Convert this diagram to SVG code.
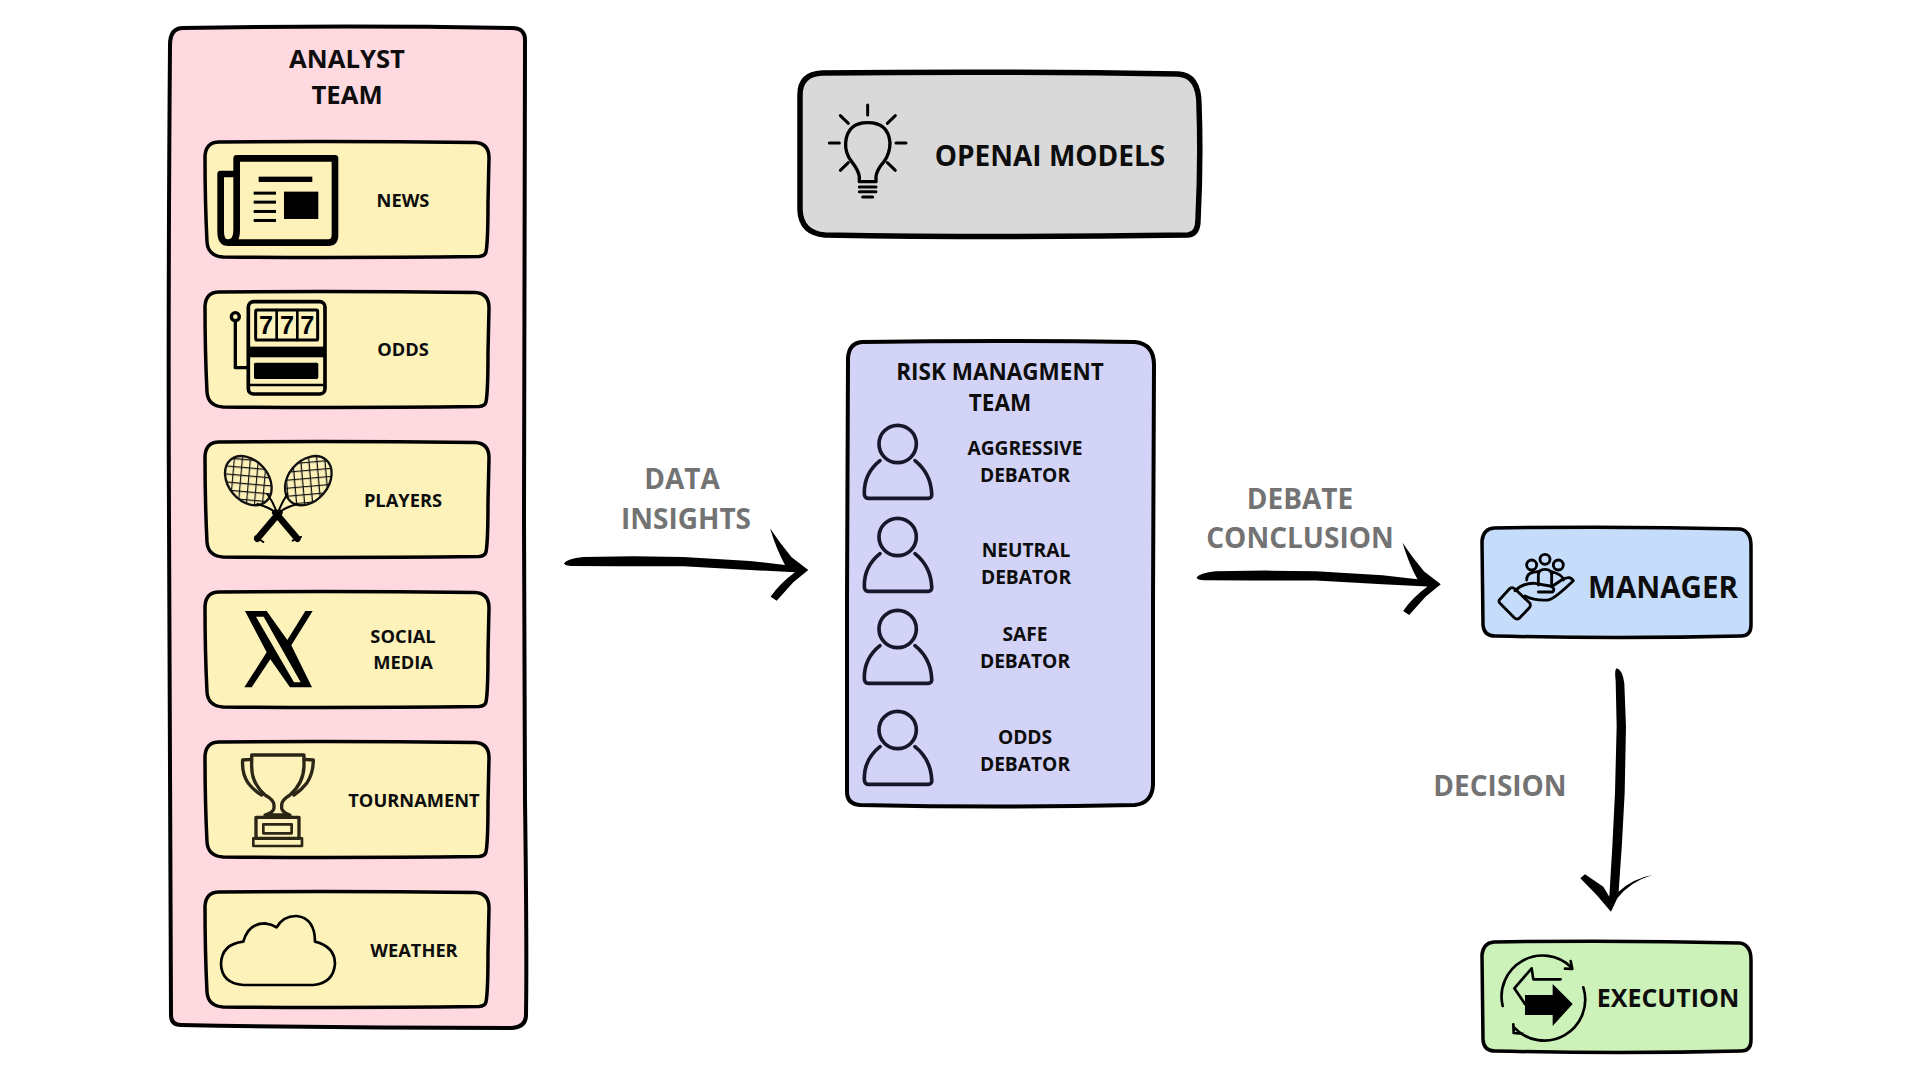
<svg xmlns="http://www.w3.org/2000/svg" width="1920" height="1080" viewBox="0 0 1920 1080">
<style>
text{font-family:"Open Sans","Liberation Sans",sans-serif;font-weight:700;fill:#0d0d0d;text-anchor:middle}
.t26{font-size:25.7px}.t18{font-size:18.3px}.t19{font-size:19.2px}.t22{font-size:22.5px}
.lab{font-size:28px;fill:#737373}
.box{stroke:#000;stroke-linejoin:round}
.card{fill:#fcf2ba;stroke:#000;stroke-width:3.5;stroke-linejoin:round}
.ln{fill:none;stroke:#000;stroke-linecap:round;stroke-linejoin:round}
.solid{fill:#000;stroke:none}
</style>
<defs>
<path id="cardShape" class="card" d="M14 0Q140-1 270 .5Q284 1 284 16L283 60Q283 100 281 110Q280 114 274 114.5Q140 116 18 115Q3 114 2 100Q0 60 0 14Q1 0 14 0Z"/>
<path id="stroke" d="M42 340Q50 326 100 321L250 319L400 321L600 333L705 345Q680 300 660 235Q690 280 725 322L775 360L730 397L680 452L662 440Q690 400 735 367L600 360L400 349L200 349L70 348Q45 349 42 340Z"/>
<g id="person" class="ln" stroke-width="11" style="stroke:#17172b">
<circle cx="173" cy="342" r="56"/>
<path d="M120 392Q72 430 73 490Q73 505 85 505L265 505Q277 505 275 490Q272 430 225 392"/>
</g>
<pattern id="hatch" width="24" height="24" patternUnits="userSpaceOnUse" patternTransform="rotate(45)">
<rect width="24" height="24" fill="#fcf2ba"/>
<path d="M0 0H24M0 0V24" stroke="#111" stroke-width="7"/>
</pattern>
</defs>

<g id="connectors">
<use href="#stroke" transform="translate(550 450) scale(.3333)"/>
<use href="#stroke" transform="translate(1182.5 464.3) scale(.3333)"/>
<path transform="translate(1420 660) scale(.3333)" d="M590 25Q583 30 587 60L590 200L585 400L577 560L568 710L550 680L495 643L481 655L530 705L573 755L592 715Q630 665 697 645Q640 655 596 695L606 550L614 400L618 200L613 70Q608 30 590 25Z"/>
<text class="lab" x="682" y="489">DATA</text>
<text class="lab" x="686" y="529">INSIGHTS</text>
<text class="lab" x="1300" y="509">DEBATE</text>
<text class="lab" x="1300" y="548">CONCLUSION</text>
<text class="lab" x="1500" y="796">DECISION</text>
</g>

<g id="analyst-team">
<path class="box" fill="#ffd9e0" stroke-width="4" d="M183 28Q345 25 512 28Q526 28 525 42Q524 300 524 520L525 800Q527 950 526 1015Q526 1027 512 1028Q345 1028 181 1025Q171 1025 171 1015L169 520Q168 300 170 45Q170 28 183 28Z"/>
<text class="t26" x="347" y="68">ANALYST</text>
<text class="t26" x="347" y="104">TEAM</text>
</g>

<g id="news">
<use href="#cardShape" x="205" y="142"/>
<g transform="translate(150 0) scale(.3333)">
<path class="ln" stroke-width="20" stroke-linecap="butt" d="M260 690V475H555V705Q555 728 535 728H235Q212 728 212 695V522H260M260 690Q260 728 235 728"/>
<rect class="solid" x="326" y="530" width="161" height="16"/>
<rect class="solid" x="311" y="575" width="67" height="9"/>
<rect class="solid" x="311" y="602" width="67" height="9"/>
<rect class="solid" x="311" y="630" width="67" height="9"/>
<rect class="solid" x="311" y="657" width="67" height="9"/>
<rect class="solid" x="402" y="575" width="103" height="82"/>
</g>
<text class="t18" x="403" y="207">NEWS</text>
</g>

<g id="odds">
<use href="#cardShape" x="205" y="292"/>
<g transform="translate(150 0) scale(.3333)">
<rect class="ln" x="295" y="905" width="230" height="277" rx="16" stroke-width="11"/>
<rect class="ln" x="317" y="930" width="186" height="90" rx="4" stroke-width="9"/>
<path class="ln" stroke-width="8" d="M380 930V1020M442 930V1020"/>
<text x="348" y="1002" style="font-family:'Liberation Sans',sans-serif;font-size:76px;fill:#000">7</text>
<text x="411" y="1002" style="font-family:'Liberation Sans',sans-serif;font-size:76px;fill:#000">7</text>
<text x="472" y="1002" style="font-family:'Liberation Sans',sans-serif;font-size:76px;fill:#000">7</text>
<rect class="solid" x="295" y="1040" width="230" height="32"/>
<rect class="solid" x="312" y="1088" width="193" height="49" rx="5"/>
<path class="ln" stroke-width="8" d="M295 1155H525"/>
<circle class="ln" cx="256" cy="950" r="12" stroke-width="10"/>
<path class="ln" stroke-width="10" d="M256 962V1103H295"/>
</g>
<text class="t18" x="403" y="356">ODDS</text>
</g>

<g id="players">
<use href="#cardShape" x="205" y="442"/>
<g transform="translate(150 420) scale(.3333)">
<ellipse cx="295" cy="182" rx="60" ry="82" transform="rotate(-40 295 182)" fill="url(#hatch)" stroke="#111" stroke-width="7"/>
<ellipse cx="475" cy="182" rx="60" ry="82" transform="rotate(40 475 182)" fill="url(#hatch)" stroke="#111" stroke-width="7"/>
<path class="ln" stroke-width="6" d="M352 222Q372 250 382 282M322 252Q360 262 382 282M412 222Q394 250 382 282M442 252Q404 262 382 282"/>
<path class="ln" stroke-width="20" stroke-linecap="butt" d="M376 278L442 356M388 278L322 356"/>
<path class="ln" stroke-width="6" stroke-linecap="butt" d="M428 362L453 351M316 350L340 366"/>
</g>
<text class="t18" x="403" y="507">PLAYERS</text>
</g>

<g id="social-media">
<use href="#cardShape" x="205" y="592"/>
<g transform="translate(150 420) scale(.3333)">
<path class="solid" fill-rule="evenodd" d="M285 573H350L412 660L466 573H488L424 676L486 802H420L361 718L305 802H283L350 697ZM318 590L432 787H452L341 590Z"/>
</g>
<text class="t18" x="403" y="643">SOCIAL</text>
<text class="t18" x="403" y="669">MEDIA</text>
</g>

<g id="tournament">
<use href="#cardShape" x="205" y="742"/>
<g transform="translate(150 740) scale(.3333)" class="ln" style="stroke:#2b2616" stroke-width="10">
<path d="M305 45H462V80Q460 130 420 165Q395 180 395 195V205Q398 218 420 225H345Q370 218 372 205V195Q372 180 345 165Q305 130 305 80Z"/>
<path d="M305 58L278 60Q275 100 295 130Q310 150 335 165M462 58L490 60Q490 100 470 130Q455 150 432 165"/>
<rect x="318" y="232" width="129" height="63"/>
<rect x="340" y="253" width="85" height="27" stroke-width="8"/>
<rect x="310" y="295" width="146" height="23" stroke-width="8"/>
</g>
<text class="t18" x="414" y="807">TOURNAMENT</text>
</g>

<g id="weather">
<use href="#cardShape" x="205" y="892"/>
<g transform="translate(150 740) scale(.3333)">
<path class="ln" stroke-width="8" d="M280 735Q215 730 213 672Q215 612 280 605Q295 550 345 550Q365 552 380 562Q400 527 440 528Q495 535 495 605Q555 620 555 672Q550 730 490 735Z"/>
</g>
<text class="t18" x="414" y="957">WEATHER</text>
</g>

<g id="openai-models">
<path class="box" fill="#d9d9d9" stroke-width="5.5" d="M822 73Q1000 71 1178 74Q1199 75 1199 105Q1201 160 1198 220Q1198 234 1188 235Q1000 238 825 235Q801 233 800 210L800 95Q800 74 822 73Z"/>
<g transform="translate(790 50) scale(.3333)">
<path class="ln" stroke-width="10" d="M208 395V380Q205 360 185 335Q165 310 167 278Q172 218 233 218Q295 218 300 278Q300 310 282 335Q260 360 258 380V395Z"/>
<path class="ln" stroke-width="9" stroke-linecap="butt" d="M208 411H258M208 425H258M218 441H248"/>
<path class="ln" stroke-width="9" d="M233 165V195M151 197L175 220M316 197L292 220M118 279H148M318 279H348M151 361L175 338M316 361L292 338"/>
</g>
<text x="1050" y="166" font-size="28">OPENAI MODELS</text>
</g>

<g id="risk-management-team">
<path class="box" fill="#d3d3f7" stroke-width="4" d="M862 342Q1000 340 1135 342Q1154 344 1154 365L1153 600L1153 785Q1152 803 1135 805Q1000 808 860 805Q847 804 847 792L847 600L848 358Q849 343 862 342Z"/>
<text class="t22" x="1000" y="380">RISK MANAGMENT</text>
<text class="t22" x="1000" y="411">TEAM</text>
</g>

<g id="aggressive-debator">
<use href="#person" transform="translate(840 330) scale(.3333)"/>
<text class="t19" x="1025" y="455">AGGRESSIVE</text>
<text class="t19" x="1025" y="482">DEBATOR</text>
</g>
<g id="neutral-debator">
<use href="#person" transform="translate(840 423) scale(.3333)"/>
<text class="t19" x="1026" y="557">NEUTRAL</text>
<text class="t19" x="1026" y="584">DEBATOR</text>
</g>
<g id="safe-debator">
<use href="#person" transform="translate(840 515) scale(.3333)"/>
<text class="t19" x="1025" y="641">SAFE</text>
<text class="t19" x="1025" y="668">DEBATOR</text>
</g>
<g id="odds-debator">
<use href="#person" transform="translate(840 616) scale(.3333)"/>
<text class="t19" x="1025" y="744">ODDS</text>
<text class="t19" x="1025" y="771">DEBATOR</text>
</g>

<g id="manager">
<path class="box" fill="#c5ddfb" stroke-width="3.5" d="M1494 533Q1620 531 1740 534Q1751 536 1751 551L1751 630Q1751 641 1741 641Q1620 644 1495 641Q1484 641 1483 630L1482 546Q1483 534 1494 533Z" transform="translate(0 -5)"/>
<g transform="translate(1480 520) scale(.3333)" class="ln" stroke-width="8.5">
<circle cx="155" cy="135" r="15"/><circle cx="195" cy="118" r="15"/><circle cx="235" cy="135" r="15"/>
<path d="M175 195V165Q175 148 195 148Q215 148 215 165V195M140 180Q140 155 175 155M250 180Q250 165 215 155"/>
<path d="M58 240L90 205Q97 200 105 207L150 250Q153 258 148 263L118 295Q110 300 103 293L60 250Q55 245 58 240Z"/>
<path d="M105 212Q130 188 165 190L210 198Q228 205 218 216H175M135 228Q165 243 205 240Q225 235 280 182Q270 165 245 180L218 198"/>
</g>
<text x="1663" y="598" font-size="29.5">MANAGER</text>
</g>

<g id="execution">
<path class="box" fill="#ccf1b9" stroke-width="3.5" d="M1494 942Q1620 940 1740 943Q1751 945 1751 960L1751 1040Q1751 1051 1741 1051Q1620 1054 1495 1051Q1484 1051 1483 1040L1482 955Q1483 943 1494 942Z"/>
<g transform="translate(1480 930) scale(.3333)">
<path class="ln" stroke-width="8" d="M68 228A123 123 0 0 1 274 112M255 116L277 117L272 93M310 172A123 123 0 0 1 102 292M100 283L101 309L127 311"/>
<path class="ln" stroke-width="8" d="M242 148H160L155 115L103 175L135 222"/>
<path class="solid" d="M135 195H218V162L278 222L218 288V255H135Z"/>
</g>
<text x="1668" y="1007" font-size="25">EXECUTION</text>
</g>
</svg>
